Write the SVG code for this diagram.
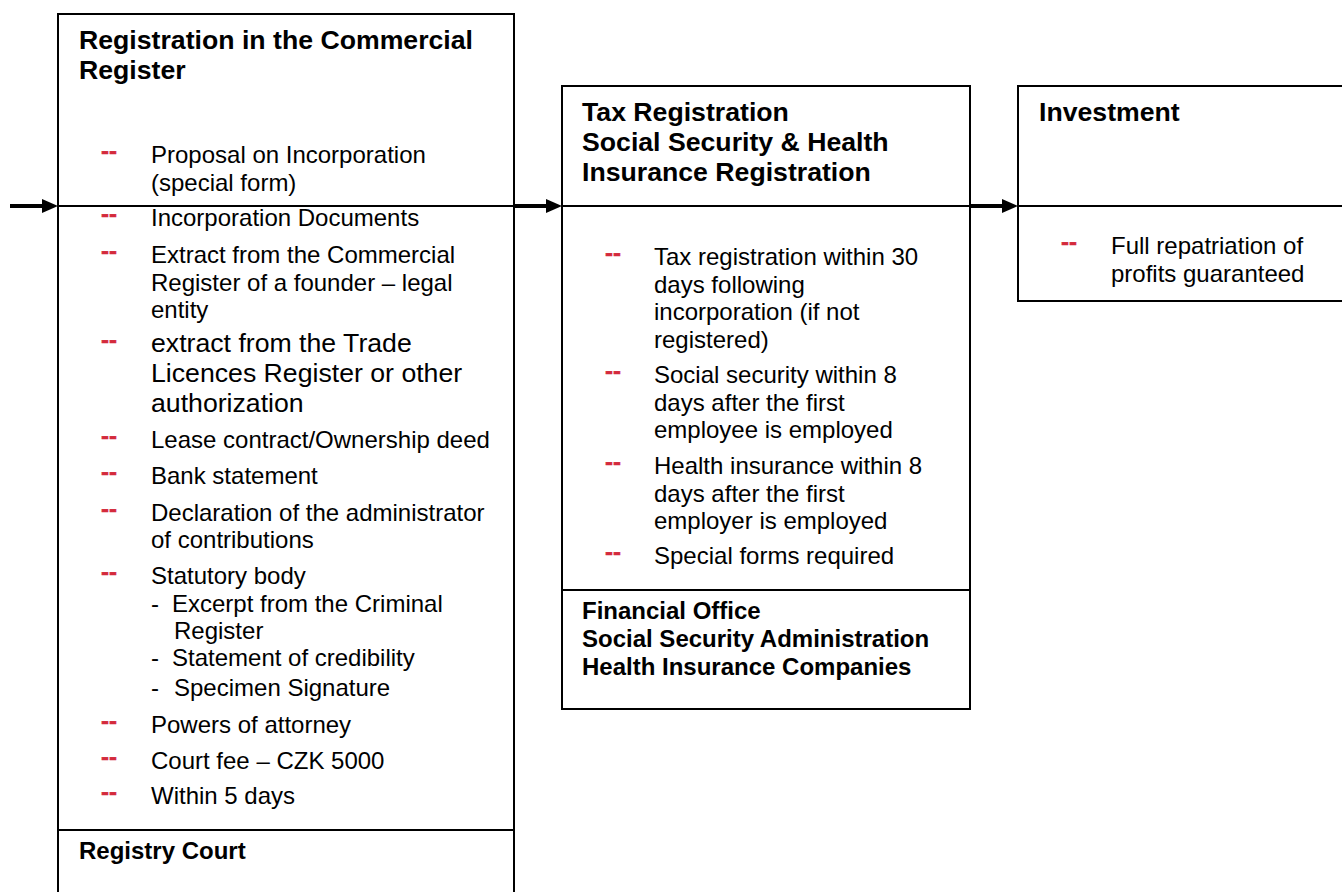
<svg xmlns="http://www.w3.org/2000/svg" width="1342" height="892" viewBox="0 0 1342 892">
<style>
.box{fill:#fff;stroke:#000;stroke-width:2}
.div{stroke:#000;stroke-width:2;fill:none}
.t{font-family:"Liberation Sans",Arial,sans-serif;fill:#000}
.h{font-size:26.67px;font-weight:bold}
.hs{font-size:24px;font-weight:bold}
.b{font-size:24px}
.bl{font-size:26.67px}
.d{font-family:"Liberation Sans",Arial,sans-serif;font-size:24px;font-weight:bold;fill:#d42a3c;stroke:#d42a3c;stroke-width:0.5}
.conn{stroke:#000;stroke-width:4;fill:none}
</style>
<defs>
<marker id="ah" markerUnits="userSpaceOnUse" markerWidth="16" markerHeight="14" refX="2" refY="7" orient="auto">
<path d="M0,0 L16,7 L0,14 z" fill="#000"/>
</marker>
</defs>
<rect width="1342" height="892" fill="#fff"/>
<g id="node-commercial-register">
<rect class="box" x="58" y="14" width="456" height="900"/>
<line class="div" x1="58" y1="206" x2="514" y2="206"/>
<line class="div" x1="58" y1="830" x2="514" y2="830"/>
<text class="t h" x="79" y="49">Registration in the Commercial</text>
<text class="t h" x="79" y="79">Register</text>
<text class="d" x="101" y="159">--</text>
<text class="t b" x="151" y="163">Proposal on Incorporation</text>
<text class="t b" x="151" y="191">(special form)</text>
<text class="d" x="101" y="222">--</text>
<text class="t b" x="151" y="226">Incorporation Documents</text>
<text class="d" x="101" y="259">--</text>
<text class="t b" x="151" y="263">Extract from the Commercial</text>
<text class="t b" x="151" y="290.5">Register of a founder – legal</text>
<text class="t b" x="151" y="318">entity</text>
<text class="d" x="101" y="348">--</text>
<text class="t bl" x="151" y="352">extract from the Trade</text>
<text class="t bl" x="151" y="382">Licences Register or other</text>
<text class="t bl" x="151" y="412">authorization</text>
<text class="d" x="101" y="444">--</text>
<text class="t b" x="151" y="448">Lease contract/Ownership deed</text>
<text class="d" x="101" y="480">--</text>
<text class="t b" x="151" y="484">Bank statement</text>
<text class="d" x="101" y="516.5">--</text>
<text class="t b" x="151" y="520.5">Declaration of the administrator</text>
<text class="t b" x="151" y="548">of contributions</text>
<text class="d" x="101" y="580">--</text>
<text class="t b" x="151" y="584">Statutory body</text>
<text class="t b" x="151" y="611.5">-</text>
<text class="t b" x="172" y="611.5">Excerpt from the Criminal</text>
<text class="t b" x="174" y="638.5">Register</text>
<text class="t b" x="151" y="666">-</text>
<text class="t b" x="172" y="666">Statement of credibility</text>
<text class="t b" x="151" y="696">-</text>
<text class="t b" x="174" y="696">Specimen Signature</text>
<text class="d" x="101" y="729">--</text>
<text class="t b" x="151" y="733">Powers of attorney</text>
<text class="d" x="101" y="765">--</text>
<text class="t b" x="151" y="769">Court fee – CZK 5000</text>
<text class="d" x="101" y="800">--</text>
<text class="t b" x="151" y="804">Within 5 days</text>
<text class="t hs" x="79" y="859">Registry Court</text>
</g>
<g id="node-tax-registration">
<rect class="box" x="562" y="86" width="408" height="623"/>
<line class="div" x1="562" y1="206" x2="970" y2="206"/>
<line class="div" x1="562" y1="590" x2="970" y2="590"/>
<text class="t h" x="582" y="121">Tax Registration</text>
<text class="t h" x="582" y="151">Social Security &amp; Health</text>
<text class="t h" x="582" y="181">Insurance Registration</text>
<text class="d" x="605" y="261">--</text>
<text class="t b" x="654" y="265">Tax registration within 30</text>
<text class="t b" x="654" y="292.5">days following</text>
<text class="t b" x="654" y="320">incorporation (if not</text>
<text class="t b" x="654" y="347.5">registered)</text>
<text class="d" x="605" y="379">--</text>
<text class="t b" x="654" y="383">Social security within 8</text>
<text class="t b" x="654" y="410.5">days after the first</text>
<text class="t b" x="654" y="438">employee is employed</text>
<text class="d" x="605" y="470">--</text>
<text class="t b" x="654" y="474">Health insurance within 8</text>
<text class="t b" x="654" y="501.5">days after the first</text>
<text class="t b" x="654" y="529">employer is employed</text>
<text class="d" x="605" y="560">--</text>
<text class="t b" x="654" y="564">Special forms required</text>
<text class="t hs" x="582" y="619">Financial Office</text>
<text class="t hs" x="582" y="647">Social Security Administration</text>
<text class="t hs" x="582" y="674.5">Health Insurance Companies</text>
</g>
<g id="node-investment">
<rect class="box" x="1018" y="86" width="340" height="215"/>
<line class="div" x1="1018" y1="206" x2="1342" y2="206"/>
<text class="t h" x="1039" y="121">Investment</text>
<text class="d" x="1061" y="250">--</text>
<text class="t b" x="1111" y="254">Full repatriation of</text>
<text class="t b" x="1111" y="282">profits guaranteed</text>
</g>
<g id="connectors">
<line class="conn" x1="10" y1="206" x2="44" y2="206" marker-end="url(#ah)"/>
<line class="conn" x1="514" y1="206" x2="548" y2="206" marker-end="url(#ah)"/>
<line class="conn" x1="970" y1="206" x2="1004" y2="206" marker-end="url(#ah)"/>
</g>
</svg>
